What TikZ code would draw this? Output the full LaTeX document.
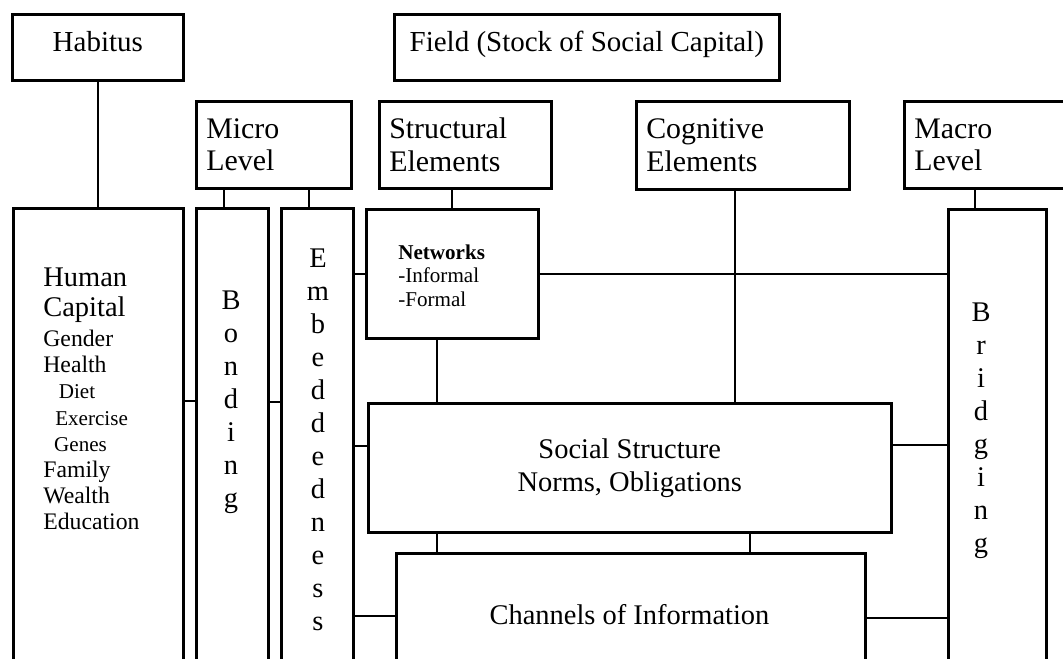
\documentclass[tikz,border=0pt]{standalone}
\usepackage{fontspec}
\setmainfont{Liberation Serif}
\usepackage{tikz}
\usetikzlibrary{positioning}

\begin{document}
\begin{tikzpicture}[x=0.02cm, y=-0.02cm]

\tikzset{box/.style={
		draw,
		line width=1.5pt,
		anchor=north west,
		inner sep=0pt
	},
	headbox/.style={box,
		minimum height=1.32cm,
		text height=0.69em, text depth=0.25em,
		font=\fontsize{16.5}{19}\selectfont
	},
	lvlbox/.style={box,
		align=left,
		inner xsep=0.2cm,
		minimum height=1.74cm,
		font=\fontsize{17}{18.7}\selectfont
	},
	tallbox/.style={box, minimum height=9.04cm},
	letters/.style={anchor=base,
		text width=1cm, align=center, inner sep=0pt,
		font=\fontsize{16.2}{18.8}\selectfont
	},
	link/.style={line width=1.1pt}
}

\useasboundingbox (0,0) rectangle (1063,659);
\clip (0,0) rectangle (1063,659);

% top row
\node[headbox, minimum width=3.42cm] (habitus) at (11,13) {Habitus};
\node[headbox, minimum width=7.70cm] (field) at (393,13) {Field (Stock of Social Capital)};

\node[lvlbox, text width=2.70cm] (micro) at (195,100) {Micro\\Level};
\node[lvlbox, text width=3.04cm] (struct) at (378,100) {Structural\\Elements};
\node[lvlbox, text width=3.86cm, minimum height=1.76cm] (cogn) at (635,100) {Cognitive\\Elements};
\node[lvlbox, text width=3.34cm] (macro) at (903,100) {Macro\\Level};

% lower boxes
\node[tallbox, minimum width=3.40cm] (hc) at (12,207) {};
\node[tallbox, minimum width=1.44cm] (bonding) at (195,207) {};
\node[tallbox, minimum width=1.44cm] (embed) at (280,207) {};
\node[box, minimum width=3.44cm, minimum height=2.58cm] (networks) at (365,208) {};
\node[box, minimum width=10.46cm, minimum height=2.58cm, align=center,
	font=\fontsize{16.2}{18.7}\selectfont] (social) at (367,402) {Social Structure\\Norms, Obligations};
\node[box, minimum width=9.38cm, minimum height=2.14cm] (channels) at (395,552) {};
\node[tallbox, minimum width=1.96cm, minimum height=9.02cm] (bridging) at (947,208) {};

% texts
\node[anchor=base west, text width=3cm, align=left, inner sep=0pt,
	font=\fontsize{13.5}{14.9}\selectfont] (hctext) at (43,286)
	{{\fontsize{16.2}{14.9}\selectfont Human}\\[2.6pt]
	 {\fontsize{16.2}{14.9}\selectfont Capital}\\[2.1pt]
	 Gender\\
	 Health\\
	 {\fontsize{12}{14.9}\selectfont\hspace*{8.8pt}Diet}\\
	 {\fontsize{12}{14.9}\selectfont\hspace*{6.8pt}Exercise}\\
	 {\fontsize{12}{14.9}\selectfont\hspace*{6.2pt}Genes}\\
	 Family\\
	 Wealth\\
	 Education};
\node[letters] (bondtext) at (231,309) {B\\o\\n\\d\\i\\n\\g};
\node[letters] (embedtext) at (318,267) {E\\m\\b\\e\\d\\d\\e\\d\\n\\e\\s\\s};
\node[letters] (bridgetext) at (981,321) {B\\r\\i\\d\\g\\i\\n\\g};
\node[anchor=base west, text width=2.4cm, align=left, inner sep=0pt,
	font=\fontsize{12}{13.6}\selectfont] (nettext) at (398,259)
	{\textbf{Networks}\\-Informal\\-Formal};
\node[anchor=base, inner sep=0pt, font=\fontsize{16.2}{18.8}\selectfont] (chantext) at (629.5,624) {Channels of Information};

% connectors
\draw[link] (habitus.south) -- (habitus.south |- hc.north);
\draw[link] (224,0 |- micro.south) -- (224,0 |- bonding.north);
\draw[link] (309,0 |- micro.south) -- (309,0 |- embed.north);
\draw[link] (452,0 |- struct.south) -- (452,0 |- networks.north);
\draw[link] (735,0 |- cogn.south) -- (735,0 |- social.north);
\draw[link] (975,0 |- macro.south) -- (975,0 |- bridging.north);
\draw[link] (embed.east |- networks.west) -- (networks.west);
\draw[link] (networks.east) -- (networks.east -| bridging.west);
\draw[link] (0,401 -| hc.east) -- (0,401 -| bonding.west);
\draw[link] (0,402 -| bonding.east) -- (0,402 -| embed.west);
\draw[link] (437,0 |- networks.south) -- (437,0 |- social.north);
\draw[link] (0,446 -| embed.east) -- (0,446 -| social.west);
\draw[link] (0,445 -| social.east) -- (0,445 -| bridging.west);
\draw[link] (437,0 |- social.south) -- (437,0 |- channels.north);
\draw[link] (750,0 |- social.south) -- (750,0 |- channels.north);
\draw[link] (0,616 -| embed.east) -- (0,616 -| channels.west);
\draw[link] (0,618 -| channels.east) -- (0,618 -| bridging.west);

\end{tikzpicture}
\end{document}
